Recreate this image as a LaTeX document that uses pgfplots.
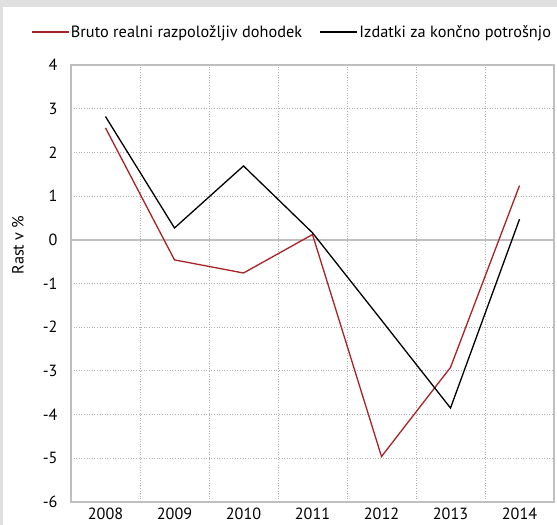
\documentclass[border=0pt]{standalone}
\usepackage{fontspec}
\setmainfont{PT Sans}
\usepackage{pgfplots}
\pgfplotsset{compat=1.18}
\definecolor{serred}{RGB}{170,34,39}
\definecolor{framegray}{RGB}{224,224,224}
\definecolor{axgray}{RGB}{191,191,191}
\definecolor{gridgray}{RGB}{175,175,175}

\begin{document}
\begin{tikzpicture}[x=1bp,y=1bp]
\useasboundingbox (0,0) rectangle (557,525);
\clip (0,0) rectangle (557,525);
\fill[framegray] (0,0) rectangle (557,525);
\fill[white] (3,0) rectangle (557,518);
\begin{axis}[
    at={(71bp,23bp)}, anchor=south west,
    scale only axis, width=483bp, height=437bp,
    xmin=2007.5, xmax=2014.5, ymin=-6, ymax=4,
    xtick={2008,2009,2010,2011,2012,2013,2014},
    ytick={-6,-5,-4,-3,-2,-1,0,1,2,3,4},
    minor xtick={2008.5,2009.5,2010.5,2011.5,2012.5,2013.5},
    major tick length=0pt, minor tick length=0pt,
    ymajorgrids, xminorgrids,
    grid style={gridgray, dash pattern=on 1bp off 1.6bp, line width=0.8bp},
    minor grid style={gridgray, dash pattern=on 1bp off 1.6bp, line width=0.8bp},
    axis line style={axgray, line width=1.3bp},
    extra y ticks={0}, extra y tick labels={},
    extra y tick style={grid style={solid, axgray, line width=1.7bp}},
    font=\fontsize{16.2bp}{19bp}\selectfont,
    /pgf/number format/assume math mode=true,
    /pgf/number format/set thousands separator={},
    yticklabel style={xshift=-10bp},
    xticklabel style={yshift=-2bp},
    ylabel={Rast v \%},
    ylabel style={at={(axis description cs:-0.110,0.588)}, anchor=center},
    legend columns=2,
    legend style={at={(axis description cs:-0.083,1.0755)}, anchor=west,
        draw=none, fill=none, inner sep=0pt,
        /tikz/every even column/.append style={column sep=16bp},
        nodes={inner sep=1.5bp, font=\fontsize{16.3bp}{19bp}\selectfont}},
    legend image code/.code={\draw[#1] (0bp,0bp) -- (37bp,0bp);},
]
\addplot[serred, line width=1.3bp] coordinates {
    (2008,2.56) (2009,-0.46) (2010,-0.76) (2011,0.12)
    (2012,-4.96) (2013,-2.92) (2014,1.24)};
\addlegendentry{Bruto realni razpoložljiv dohodek}
\addplot[black, line width=1.3bp] coordinates {
    (2008,2.82) (2009,0.27) (2010,1.69) (2011,0.16)
    (2012,-1.84) (2013,-3.85) (2014,0.47)};
\addlegendentry{Izdatki za končno potrošnjo}
\end{axis}
\end{tikzpicture}
\end{document}
